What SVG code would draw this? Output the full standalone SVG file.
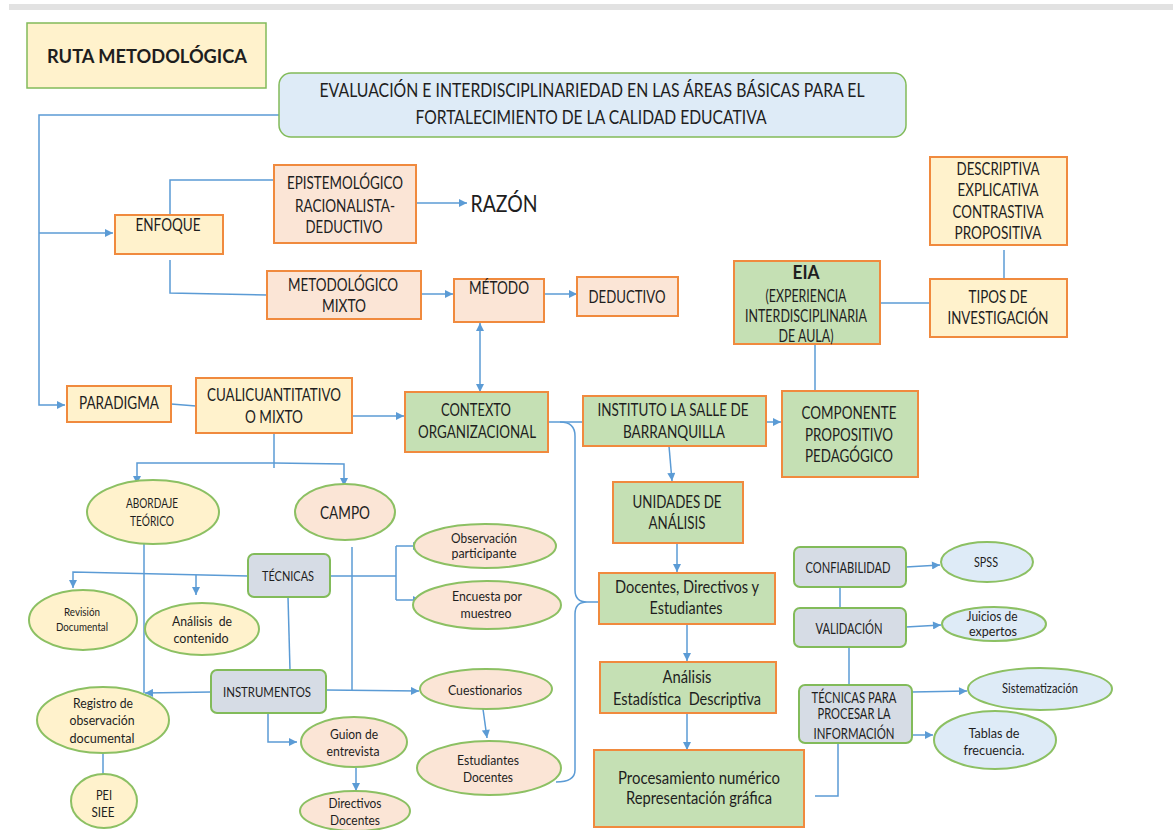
<svg xmlns="http://www.w3.org/2000/svg" width="1173" height="830" viewBox="0 0 1173 830">
<style>
text{font-family:Lato,"Liberation Sans",sans-serif;fill:#1e1e1e;text-anchor:middle;white-space:pre}
.f17{font-size:17px}.f15{font-size:15px}.f14{font-size:14px}.f12{font-size:12.5px}.f11{font-size:11px}
.b{font-weight:bold}
.c{fill:none;stroke:#5b9bd5;stroke-width:1.5}
.ar{marker-end:url(#ah)}
.y{fill:#fff2cc;stroke:#f08a3e;stroke-width:2}
.p{fill:#fbe5d6;stroke:#f08a3e;stroke-width:2}
.g{fill:#c5e0b4;stroke:#f08a3e;stroke-width:2}
.gy{fill:#fff2cc;stroke:#82bb5a;stroke-width:1.5}
.bl{fill:#deebf7;stroke:#82bb5a;stroke-width:1.5}
.gr{fill:#d6dce5;stroke:#82bb5a;stroke-width:2}
.ey{fill:#fff2cc;stroke:#8cc063;stroke-width:2}
.ep{fill:#fbe5d6;stroke:#8cc063;stroke-width:2}
.eb{fill:#deebf7;stroke:#8cc063;stroke-width:2}
</style>
<defs>
<marker id="ah" viewBox="0 0 10 10" refX="10" refY="5" markerWidth="9" markerHeight="8" markerUnits="userSpaceOnUse" orient="auto-start-reverse">
<path d="M0,0 L10,5 L0,10 z" fill="#5b9bd5"/>
</marker>
</defs>
<rect x="9" y="4" width="1164" height="6" fill="#e2e2e2"/>

<g id="connectors">
<path class="c" d="M279,115 L39,115 L39,405 L65,405" marker-end="url(#ah)"/>
<path class="c ar" d="M39,233 L113,233"/>
<path class="c" d="M170,215 L170,180 L274,180"/>
<path class="c ar" d="M416,203 L467,203"/>
<path class="c" d="M170,260 L170,293 L267,295"/>
<path class="c ar" d="M421,294 L453,294"/>
<path class="c ar" d="M544,294 L577,294"/>
<path class="c ar" d="M480,358 L480,323"/>
<path class="c ar" d="M480,358 L480,392"/>
<path class="c" d="M171,404 L196,406"/>
<path class="c ar" d="M352,416 L404,416"/>
<path class="c" d="M548,422 L583,422"/>
<path class="c" d="M560,422 Q575,422 575,436 L575,590 Q575,602 587,602 L599,602 M587,602 Q575,602 575,614 L575,770 Q575,782 556,782"/>
<path class="c ar" d="M766,422 L781,422"/>
<path class="c" d="M815,344 L815,391"/>
<path class="c" d="M880,303 L930,303"/>
<path class="c" d="M1004,250 L1004,283"/>
<path class="c ar" d="M669,446 L672,481"/>
<path class="c ar" d="M677,543 L677,572"/>
<path class="c ar" d="M687,624 L687,661"/>
<path class="c ar" d="M687,713 L687,750"/>
<path class="c" d="M815,796 L838,796 L838,743"/>
<path class="c ar" d="M906,567 L940,565"/>
<path class="c" d="M840,587 L840,608"/>
<path class="c ar" d="M906,627 L941,625"/>
<path class="c" d="M849,647 L849,685"/>
<path class="c ar" d="M912,692 L967,691"/>
<path class="c ar" d="M912,735 L933,735"/>
<path class="c" d="M274,433 L274,468"/>
<path class="c ar" d="M274,463 L137,463 L137,484"/>
<path class="c ar" d="M274,463 L344,464 L344,486"/>
<path class="c ar" d="M248,576 L73,572 L73,588"/>
<path class="c ar" d="M196,575 L196,595"/>
<path class="c" d="M330,576 L396,576 M396,546 L396,600"/>
<path class="c ar" d="M396,546 L421,546"/>
<path class="c ar" d="M396,600 L421,600"/>
<path class="c" d="M352,547 L352,690"/>
<path class="c" d="M144,544 L144,693"/>
<path class="c" d="M288,597 L290,670"/>
<path class="c ar" d="M211,692 L145,693"/>
<path class="c ar" d="M326,690 L419,691"/>
<path class="c ar" d="M268,713 L268,742 L297,742"/>
<path class="c" d="M103,753 L103,775"/>
<path class="c ar" d="M483,709 L487,738"/>
<path class="c ar" d="M356,768 L356,791"/>
</g>

<g id="ruta"><rect class="gy" x="27" y="23" width="239" height="65"/><text class="b" style="font-size:18px" x="147" y="63" textLength="200" lengthAdjust="spacingAndGlyphs">RUTA METODOLÓGICA</text></g>

<g id="titulo"><rect class="bl" x="279" y="73" width="627" height="64" rx="12"/>
<text style="font-size:19px" x="592" y="97" textLength="545" lengthAdjust="spacingAndGlyphs">EVALUACIÓN E INTERDISCIPLINARIEDAD EN LAS ÁREAS BÁSICAS PARA EL</text>
<text style="font-size:19px" x="591" y="124" textLength="351" lengthAdjust="spacingAndGlyphs">FORTALECIMIENTO DE LA CALIDAD EDUCATIVA</text></g>

<g id="enfoque"><rect class="y" x="115" y="215" width="108" height="39"/><text class="f17" x="168" y="231" textLength="65" lengthAdjust="spacingAndGlyphs">ENFOQUE</text></g>

<g id="epistemologico"><rect class="p" x="274" y="165" width="142" height="78"/>
<text class="f17" x="345" y="189" textLength="116" lengthAdjust="spacingAndGlyphs">EPISTEMOLÓGICO</text>
<text class="f17" x="345" y="212" textLength="100" lengthAdjust="spacingAndGlyphs">RACIONALISTA-</text>
<text class="f17" x="344" y="233" textLength="77" lengthAdjust="spacingAndGlyphs">DEDUCTIVO</text></g>

<g id="razon"><text style="font-size:23px" x="504" y="212" textLength="67" lengthAdjust="spacingAndGlyphs">RAZÓN</text></g>

<g id="metodologico"><rect class="p" x="267" y="271" width="154" height="48"/>
<text class="f17" x="343" y="291" textLength="110" lengthAdjust="spacingAndGlyphs">METODOLÓGICO</text>
<text class="f17" x="344" y="312" textLength="44" lengthAdjust="spacingAndGlyphs">MIXTO</text></g>

<g id="metodo"><rect class="p" x="454" y="279" width="90" height="43"/><text class="f17" x="499" y="294" textLength="60" lengthAdjust="spacingAndGlyphs">MÉTODO</text></g>

<g id="deductivo"><rect class="p" x="577" y="277" width="101" height="39"/><text class="f17" x="627" y="303" textLength="77" lengthAdjust="spacingAndGlyphs">DEDUCTIVO</text></g>

<g id="eia"><rect class="g" x="734" y="261" width="146" height="83"/>
<text class="b" style="font-size:19px" x="806" y="279" textLength="27" lengthAdjust="spacingAndGlyphs">EIA</text>
<text class="f17" x="806" y="302" textLength="81" lengthAdjust="spacingAndGlyphs">(EXPERIENCIA</text>
<text class="f17" x="806" y="322" textLength="122" lengthAdjust="spacingAndGlyphs">INTERDISCIPLINARIA</text>
<text class="f17" x="806" y="342" textLength="55" lengthAdjust="spacingAndGlyphs">DE AULA)</text></g>

<g id="tipos"><rect class="y" x="930" y="279" width="137" height="58"/>
<text class="f17" x="998" y="303" textLength="59" lengthAdjust="spacingAndGlyphs">TIPOS DE</text>
<text class="f17" x="998" y="324" textLength="101" lengthAdjust="spacingAndGlyphs">INVESTIGACIÓN</text></g>

<g id="descriptiva"><rect class="y" x="930" y="157" width="137" height="88"/>
<text class="f17" x="998" y="175" textLength="83" lengthAdjust="spacingAndGlyphs">DESCRIPTIVA</text>
<text class="f17" x="998" y="196" textLength="81" lengthAdjust="spacingAndGlyphs">EXPLICATIVA</text>
<text class="f17" x="998" y="218" textLength="91" lengthAdjust="spacingAndGlyphs">CONTRASTIVA</text>
<text class="f17" x="998" y="239" textLength="87" lengthAdjust="spacingAndGlyphs">PROPOSITIVA</text></g>

<g id="paradigma"><rect class="y" x="67" y="386" width="104" height="36"/><text class="f17" x="119" y="409" textLength="80" lengthAdjust="spacingAndGlyphs">PARADIGMA</text></g>

<g id="cualicuantitativo"><rect class="y" x="196" y="378" width="156" height="55"/>
<text class="f17" x="274" y="401" textLength="134" lengthAdjust="spacingAndGlyphs">CUALICUANTITATIVO</text>
<text class="f17" x="274" y="423" textLength="58" lengthAdjust="spacingAndGlyphs">O MIXTO</text></g>

<g id="contexto"><rect class="g" x="405" y="392" width="143" height="60"/>
<text class="f17" x="476" y="416" textLength="70" lengthAdjust="spacingAndGlyphs">CONTEXTO</text>
<text class="f17" x="477" y="438" textLength="118" lengthAdjust="spacingAndGlyphs">ORGANIZACIONAL</text></g>

<g id="instituto"><rect class="g" x="583" y="396" width="183" height="50"/>
<text class="f17" x="673" y="416" textLength="151" lengthAdjust="spacingAndGlyphs">INSTITUTO LA SALLE DE</text>
<text class="f17" x="674" y="438" textLength="102" lengthAdjust="spacingAndGlyphs">BARRANQUILLA</text></g>

<g id="componente"><rect class="g" x="782" y="391" width="136" height="86"/>
<text class="f17" x="849" y="419" textLength="95" lengthAdjust="spacingAndGlyphs">COMPONENTE</text>
<text class="f17" x="849" y="441" textLength="88" lengthAdjust="spacingAndGlyphs">PROPOSITIVO</text>
<text class="f17" x="849" y="462" textLength="88" lengthAdjust="spacingAndGlyphs">PEDAGÓGICO</text></g>

<g id="unidades"><rect class="g" x="613" y="482" width="130" height="61"/>
<text class="f17" x="677" y="508" textLength="89" lengthAdjust="spacingAndGlyphs">UNIDADES DE</text>
<text class="f17" x="677" y="529" textLength="57" lengthAdjust="spacingAndGlyphs">ANÁLISIS</text></g>

<g id="docentes"><rect class="g" x="599" y="573" width="176" height="51"/>
<text class="f17" x="687" y="593" textLength="144" lengthAdjust="spacingAndGlyphs">Docentes, Directivos y</text>
<text class="f17" x="686" y="614" textLength="73" lengthAdjust="spacingAndGlyphs">Estudiantes</text></g>

<g id="analisis"><rect class="g" x="600" y="662" width="176" height="51"/>
<text class="f17" x="687" y="683" textLength="49" lengthAdjust="spacingAndGlyphs">Análisis</text>
<text class="f17" x="687" y="705" textLength="148" lengthAdjust="spacingAndGlyphs">Estadística  Descriptiva</text></g>

<g id="procesamiento"><rect class="g" x="594" y="750" width="210" height="77"/>
<text class="f17" x="699" y="784" textLength="162" lengthAdjust="spacingAndGlyphs">Procesamiento numérico</text>
<text class="f17" x="699" y="804" textLength="146" lengthAdjust="spacingAndGlyphs">Representación gráfica</text></g>

<g id="confiabilidad"><rect class="gr" x="794" y="547" width="112" height="40" rx="6"/><text class="f15" x="848" y="573" textLength="85" lengthAdjust="spacingAndGlyphs">CONFIABILIDAD</text></g>

<g id="spss"><ellipse class="eb" cx="987" cy="562" rx="46" ry="20"/><text class="f14" x="986" y="567" textLength="24" lengthAdjust="spacingAndGlyphs">SPSS</text></g>

<g id="validacion"><rect class="gr" x="794" y="608" width="112" height="39" rx="6"/><text class="f15" x="849" y="634" textLength="67" lengthAdjust="spacingAndGlyphs">VALIDACIÓN</text></g>

<g id="juicios"><ellipse class="eb" cx="994" cy="624" rx="52" ry="17"/>
<text class="f14" x="992" y="621" textLength="51" lengthAdjust="spacingAndGlyphs">Juicios de</text>
<text class="f14" x="993" y="636" textLength="48" lengthAdjust="spacingAndGlyphs">expertos</text></g>

<g id="tecnicas-procesar"><rect class="gr" x="799" y="685" width="113" height="58" rx="6"/>
<text class="f15" x="854" y="703" textLength="85" lengthAdjust="spacingAndGlyphs">TÉCNICAS PARA</text>
<text class="f15" x="854" y="719" textLength="73" lengthAdjust="spacingAndGlyphs">PROCESAR LA</text>
<text class="f15" x="854" y="739" textLength="81" lengthAdjust="spacingAndGlyphs">INFORMACIÓN</text></g>

<g id="sistematizacion"><ellipse class="eb" cx="1040" cy="689" rx="72" ry="21"/><text class="f14" x="1040" y="693" textLength="76" lengthAdjust="spacingAndGlyphs">Sistematización</text></g>

<g id="tablas"><ellipse class="eb" cx="995" cy="740" rx="61" ry="29"/>
<text class="f14" x="994" y="738" textLength="51" lengthAdjust="spacingAndGlyphs">Tablas de</text>
<text class="f14" x="994" y="755" textLength="61" lengthAdjust="spacingAndGlyphs">frecuencia.</text></g>

<g id="abordaje"><ellipse class="ey" cx="153" cy="512" rx="66" ry="32"/>
<text class="f12" x="152" y="508" textLength="52" lengthAdjust="spacingAndGlyphs">ABORDAJE</text>
<text class="f12" x="152" y="526" textLength="44" lengthAdjust="spacingAndGlyphs">TEÓRICO</text></g>

<g id="campo"><ellipse class="ep" cx="345" cy="512" rx="50" ry="28"/><text style="font-size:18px" x="345" y="519" textLength="50" lengthAdjust="spacingAndGlyphs">CAMPO</text></g>

<g id="tecnicas"><rect class="gr" x="248" y="554" width="82" height="43" rx="6"/><text class="f14" x="288" y="581" textLength="52" lengthAdjust="spacingAndGlyphs">TÉCNICAS</text></g>

<g id="revision"><ellipse class="ey" cx="83" cy="620" rx="54" ry="30"/>
<text class="f11" x="82" y="616" textLength="36" lengthAdjust="spacingAndGlyphs">Revisión</text>
<text class="f11" x="82" y="631" textLength="52" lengthAdjust="spacingAndGlyphs">Documental</text></g>

<g id="analisis-contenido"><ellipse class="ey" cx="202" cy="629" rx="57" ry="26"/>
<text class="f14" x="202" y="626" textLength="60" lengthAdjust="spacingAndGlyphs">Análisis  de</text>
<text class="f14" x="201" y="643" textLength="55" lengthAdjust="spacingAndGlyphs">contenido</text></g>

<g id="observacion"><ellipse class="ep" cx="485" cy="546" rx="71" ry="22"/>
<text class="f14" x="484" y="543" textLength="66" lengthAdjust="spacingAndGlyphs">Observación</text>
<text class="f14" x="484" y="558" textLength="65" lengthAdjust="spacingAndGlyphs">participante</text></g>

<g id="encuesta"><ellipse class="ep" cx="487" cy="605" rx="74" ry="24"/>
<text class="f14" x="487" y="601" textLength="70" lengthAdjust="spacingAndGlyphs">Encuesta por</text>
<text class="f14" x="486" y="618" textLength="51" lengthAdjust="spacingAndGlyphs">muestreo</text></g>

<g id="instrumentos"><rect class="gr" x="211" y="670" width="115" height="43" rx="6"/><text class="f14" x="267" y="697" textLength="88" lengthAdjust="spacingAndGlyphs">INSTRUMENTOS</text></g>

<g id="cuestionarios"><ellipse class="ep" cx="486" cy="689" rx="66" ry="20"/><text class="f14" x="485" y="695" textLength="74" lengthAdjust="spacingAndGlyphs">Cuestionarios</text></g>

<g id="registro"><ellipse class="ey" cx="103" cy="720" rx="66" ry="33"/>
<text class="f14" x="103" y="708" textLength="60" lengthAdjust="spacingAndGlyphs">Registro de</text>
<text class="f14" x="102" y="725" textLength="65" lengthAdjust="spacingAndGlyphs">observación</text>
<text class="f14" x="102" y="743" textLength="65" lengthAdjust="spacingAndGlyphs">documental</text></g>

<g id="pei"><ellipse class="ey" cx="104" cy="801" rx="33" ry="27"/>
<text class="f14" x="104" y="800" textLength="16" lengthAdjust="spacingAndGlyphs">PEI</text>
<text class="f14" x="103" y="817" textLength="23" lengthAdjust="spacingAndGlyphs">SIEE</text></g>

<g id="guion"><ellipse class="ep" cx="354" cy="742" rx="53" ry="25"/>
<text class="f14" x="354" y="739" textLength="48" lengthAdjust="spacingAndGlyphs">Guion de</text>
<text class="f14" x="353" y="756" textLength="53" lengthAdjust="spacingAndGlyphs">entrevista</text></g>

<g id="directivos-docentes"><ellipse class="ep" cx="355" cy="811" rx="55" ry="20"/>
<text class="f14" x="355" y="808" textLength="53" lengthAdjust="spacingAndGlyphs">Directivos</text>
<text class="f14" x="355" y="825" textLength="50" lengthAdjust="spacingAndGlyphs">Docentes</text></g>

<g id="estudiantes-docentes"><ellipse class="ep" cx="489" cy="768" rx="72" ry="27"/>
<text class="f14" x="488" y="765" textLength="62" lengthAdjust="spacingAndGlyphs">Estudiantes</text>
<text class="f14" x="488" y="782" textLength="50" lengthAdjust="spacingAndGlyphs">Docentes</text></g>
</svg>
